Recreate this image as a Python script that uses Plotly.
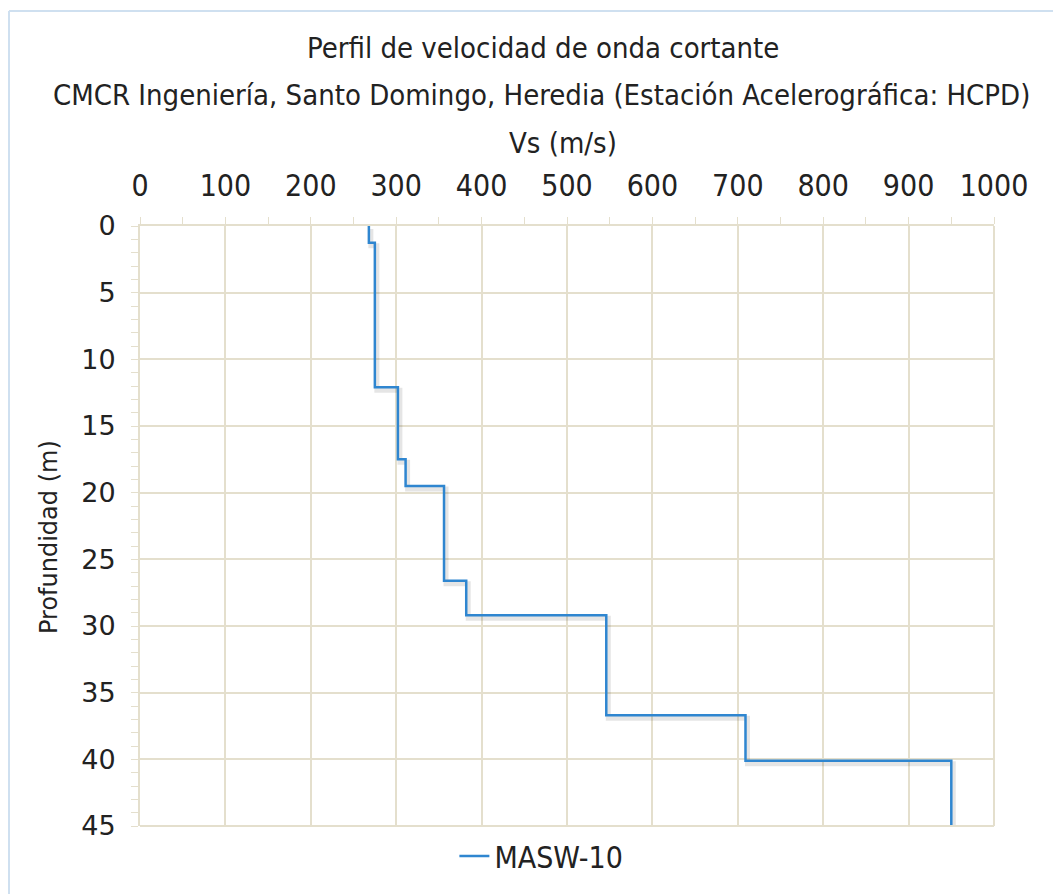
import plotly.graph_objects as go

# Layer boundaries (depth, m) and shear-wave velocity per layer (m/s)
depth_bounds = [0, 1.25, 12.1, 17.5, 19.5, 26.6, 29.2, 36.7, 40.1, 45]
vs_layers = [268, 275, 302, 311, 356, 382, 546, 709, 950]
series_name = "MASW-10"
x_ticks = [0, 100, 200, 300, 400, 500, 600, 700, 800, 900, 1000]
y_ticks = [0, 5, 10, 15, 20, 25, 30, 35, 40, 45]

title1 = "Perfil de velocidad de onda cortante"
title2 = "CMCR Ingeniería, Santo Domingo, Heredia (Estación Acelerográfica: HCPD)"
xtitle = "Vs (m/s)"
ytitle = "Profundidad (m)"

# Build step profile
xs, ys = [], []
for i, v in enumerate(vs_layers):
    xs += [v, v]
    ys += [depth_bounds[i], depth_bounds[i + 1]]

OFF = 7  # page offset of the figure in the browser
W, H = 1054, 887
L, T = 139 - OFF, 225 - OFF
pw, ph = 854, 600
R, B = W - L - pw, H - T - ph

# shadow offset in data units (approx 2px right, 3px down)
dx = 2 * 1000 / pw
dy = 3 * 45 / ph

NARROW = "Liberation Sans Narrow, DejaVu Sans Condensed, Liberation Sans, sans-serif"
WIDE = "DejaVu Sans, Verdana, sans-serif"
GRID = "#e4dfcd"

fig = go.Figure()
fig.add_trace(go.Scatter(x=[v + dx for v in xs], y=[d + dy for d in ys], mode="lines",
                         line=dict(color="rgba(0,0,0,0.10)", width=5),
                         hoverinfo="skip", showlegend=False))
fig.add_trace(go.Scatter(x=xs, y=ys, mode="lines", name=series_name,
                         line=dict(color="#2f86d0", width=2.5)))

fig.update_layout(
    width=W, height=H,
    margin=dict(l=L, r=R, t=T, b=B),
    paper_bgcolor="white", plot_bgcolor="white",
    showlegend=True,
    legend=dict(orientation="h", x=0.47, xanchor="center", y=-0.05, yanchor="middle",
                font=dict(family=NARROW, size=30, color="#222222")),
    xaxis=dict(side="top", range=[0, 1000], tickvals=x_ticks,
               showgrid=True, gridcolor=GRID, gridwidth=2,
               showline=True, linecolor=GRID, linewidth=2,
               ticks="outside", ticklen=7, tickcolor=GRID, tickwidth=1,
               minor=dict(dtick=50, ticks="outside", ticklen=7, tickcolor=GRID, showgrid=False),
               tickfont=dict(family=NARROW, size=30, color="#222222"),
               ticklabelstandoff=9, zeroline=False),
    yaxis=dict(range=[45, 0], tickvals=y_ticks,
               showgrid=True, gridcolor=GRID, gridwidth=2,
               showline=True, linecolor=GRID, linewidth=2,
               ticks="outside", ticklen=7, tickcolor=GRID, tickwidth=1,
               minor=dict(dtick=1, ticks="outside", ticklen=7, tickcolor=GRID, showgrid=False),
               tickfont=dict(family=WIDE, size=27, color="#222222"),
               ticklabelstandoff=10, zeroline=False),
)

# right and bottom frame grid lines
fig.add_shape(type="line", xref="paper", yref="paper", x0=1, x1=1, y0=0, y1=1,
              line=dict(color=GRID, width=2))
fig.add_shape(type="line", xref="paper", yref="paper", x0=0, x1=1, y0=0, y1=0,
              line=dict(color=GRID, width=2))

# screen-pixel -> paper helpers
def py(p):
    return (225 + ph - p) / ph

def px(p):
    return (p - 139) / pw

ann = [
    dict(text=title1, x=px(542), y=py(47), size=29, family=NARROW),
    dict(text=title2, x=px(540), y=py(94), size=29, family=NARROW),
    dict(text=xtitle, x=px(562), y=py(142), size=29, family=NARROW),
]
for a in ann:
    fig.add_annotation(text=a["text"], x=a["x"], y=a["y"], xref="paper", yref="paper",
                       xanchor="center", yanchor="middle", showarrow=False,
                       font=dict(family=a["family"], size=a["size"], color="#222222"))
fig.add_annotation(text=ytitle, x=px(48), y=py(536), xref="paper", yref="paper",
                   xanchor="center", yanchor="middle", showarrow=False, textangle=-90,
                   font=dict(family=WIDE, size=24, color="#222222"))

# outer light-blue frame
fig.add_shape(type="line", xref="paper", yref="paper", x0=px(8), x1=px(8), y0=py(900), y1=py(10),
              line=dict(color="#cfe0f0", width=2))
fig.add_shape(type="line", xref="paper", yref="paper", x0=px(8), x1=px(1070), y0=py(10), y1=py(10),
              line=dict(color="#cfe0f0", width=2))

fig.write_html("out.html")
